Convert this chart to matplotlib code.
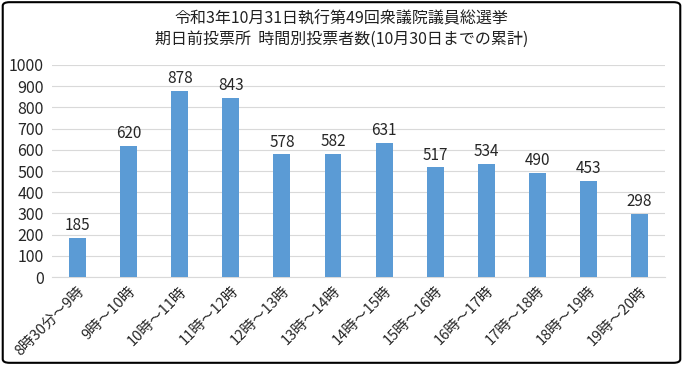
import matplotlib
matplotlib.use("Agg")
import matplotlib.pyplot as plt
from matplotlib.patches import FancyBboxPatch

plt.rcParams['font.family'] = ['Noto Sans CJK JP', 'DejaVu Sans']

# Data
categories = ["8時30分～9時", "9時～10時", "10時～11時", "11時～12時", "12時～13時",
              "13時～14時", "14時～15時", "15時～16時", "16時～17時", "17時～18時",
              "18時～19時", "19時～20時"]
voters = [185, 620, 878, 843, 578, 582, 631, 517, 534, 490, 453, 298]
yticks = [0, 100, 200, 300, 400, 500, 600, 700, 800, 900, 1000]

fig = plt.figure(figsize=(6.83, 3.65), dpi=100)
ax = fig.add_axes([0.076, 0.241, 0.898, 0.581])

x = range(len(categories))
bars = ax.bar(x, voters, width=0.33, color='#5B9BD5', zorder=3)
for xi, v in zip(x, voters):
    ax.text(xi, v + 18, str(v), ha='center', va='bottom', fontsize=11, color='#262626')

ax.set_xlim(-0.5, len(categories) - 0.5)
ax.set_ylim(0, 1000)
ax.set_yticks(yticks)
ax.set_yticklabels([str(t) for t in yticks], fontsize=11.5, color='#262626')
ax.set_xticks(list(x))
ax.set_xticklabels(categories, rotation=45, ha='right', rotation_mode='anchor',
                   fontsize=10.5, color='#262626')
ax.tick_params(axis='y', length=0, pad=6)
ax.tick_params(axis='x', length=0, pad=5)
ax.grid(axis='y', color='#D9D9D9', linewidth=0.8, zorder=0)
for s in ['top', 'right', 'left']:
    ax.spines[s].set_visible(False)
ax.spines['bottom'].set_color('#D9D9D9')

fig.text(0.5, 0.948, "令和3年10月31日執行第49回衆議院議員総選挙", ha='center', va='center',
         fontsize=11.5, color='#202020')
fig.text(0.5, 0.892, "期日前投票所  時間別投票者数(10月30日までの累計)", ha='center', va='center',
         fontsize=11.5, color='#202020')

border = FancyBboxPatch((0.004, 0.006), 0.992, 0.988, boxstyle="round,pad=0,rounding_size=0.01",
                        transform=fig.transFigure, fill=False, edgecolor='black', linewidth=1.5)
fig.patches.append(border)

fig.savefig("out.png", dpi=100)
